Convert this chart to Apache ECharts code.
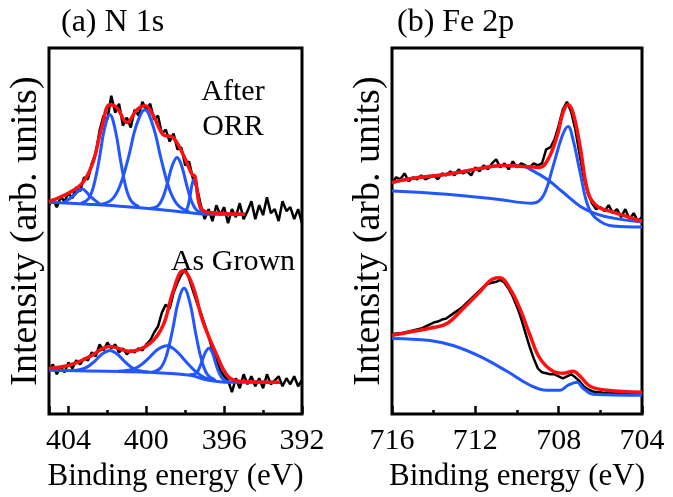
<!DOCTYPE html>
<html><head><meta charset="utf-8">
<script src="https://cdn.jsdelivr.net/npm/echarts@6/dist/echarts.min.js"></script></head>
<body style="margin:0;background:#fff">
<div id="c" style="width:673px;height:497px"></div>
<script>
// ---------------- Panel (a) N 1s ----------------
const aRawE = [405.0,404.8,404.6,404.4,404.2,404.0,403.8,403.6,403.4,403.2,403.0,402.8,402.6,402.4,402.2,402.0,401.8,401.6,401.4,401.2,401.0,400.8,400.6,400.4,400.2,400.0,399.8,399.6,399.4,399.2,399.0,398.8,398.6,398.4,398.2,398.0,397.8,397.6,397.4,397.2,397.0,396.8,396.6,396.4,396.2,396.0,395.8,395.6,395.4,395.2,395.0,394.8,394.6,394.4,394.2,394.0,393.8,393.6,393.4,393.2,393.0,392.8,392.6,392.4,392.2,392.0];
const aOrrRaw = [210,216,208,218,214,222,217,228,224,238,236,252,262,285,300,296,320,303,312,290,298,288,306,300,314,306,312,296,300,282,286,274,282,266,268,250,254,236,228,210,196,206,194,210,200,208,192,206,198,212,196,204,214,196,210,200,218,202,206,194,214,204,208,196,206,192];
const aGrownRaw = [44,50,40,48,42,52,46,54,50,56,54,62,58,70,64,72,66,70,62,66,60,64,62,66,64,70,74,82,88,102,110,106,122,132,140,146,136,124,112,102,90,78,64,54,44,38,34,22,36,26,40,30,38,28,36,26,40,30,34,38,28,36,30,38,28,34];

const aOrrFit = [[405,213.5],[403.92,223],[403.25,233],[402.74,253],[402.28,289],[401.87,311],[401.51,308],[400.99,293],[400.48,306],[400.07,310],[399.66,301],[399.14,281],[398.63,278],[398.11,261],[397.65,241],[397.5,239],[397.24,209],[396.88,203],[394.93,201]];
const aOrrBg = [[405,213],[403,211],[401,208.5],[399,205],[398,203],[397,201],[394.93,201]];
const aOrrC1 = [[404.2,213.1],[403.75,219.2],[403.5,224.1],[403.3,226.3],[403.1,223.7],[402.85,218.3],[402.4,211.3]];
const aOrrC2 = [[403.37,211.9],[402.97,216.7],[402.7,229.8],[402.42,256],[402.15,286.8],[401.87,301],[401.6,286.1],[401.32,254.7],[401.05,227.9],[400.77,214],[400.37,208.4]];
const aOrrC3 = [[402.37,210.8],[401.77,215.7],[401.35,229.7],[400.92,257.9],[400.5,290.8],[400.07,306],[399.65,289.3],[399.22,254.9],[398.8,225.4],[398.37,209.9],[397.77,203.1]];
const aOrrC4 = [[399.82,206.7],[399.42,209.1],[399.17,216.6],[398.92,231.8],[398.67,249.7],[398.42,258],[398.17,248.7],[397.92,229.8],[397.67,213.6],[397.42,205.2],[397.02,201.3]];
const aOrrC5 = [[398.1,203.4],[397.95,205],[397.85,209.7],[397.75,219.2],[397.65,230.8],[397.55,236],[397.45,230.5],[397.35,218.8],[397.25,208.9],[397.15,203.7],[397.0,201.2]];

const aGrownFit = [[405,46],[403.92,49.3],[402.89,58],[401.87,68],[400.84,63],[399.81,71],[399.14,89],[398.63,123],[398.11,144],[397.65,131],[397.09,93],[396.37,59],[395.8,38],[395.18,33],[393.13,32]];
const aGrownBg = [[405,44],[402,43],[399.8,42],[397.75,39],[396.9,34.5],[395.7,32],[393.13,32]];
const aGrownD1 = [[403.87,43.7],[403.37,44.8],[403.0,47.7],[402.62,53.7],[402.25,60.7],[401.87,64],[401.5,60.4],[401.12,53.1],[400.75,46.9],[400.37,43.6],[399.87,42.1]];
const aGrownD2 = [[401.44,43],[400.84,44.3],[400.37,48.2],[399.89,56],[399.42,64.9],[398.94,68.7],[398.47,63.6],[397.99,53.4],[397.52,43.8],[397.04,37],[396.44,33.8]];
const aGrownD3 = [[399.66,42.4],[399.26,46.6],[398.96,59.1],[398.66,83.8],[398.36,112.9],[398.06,126.5],[397.76,112],[397.46,81],[397.16,54.2],[396.86,39.8],[396.46,34.2]];
const aGrownD4 = [[397.78,39.5],[397.53,40],[397.34,43.7],[397.16,52],[396.97,61.8],[396.78,66.3],[396.59,60.8],[396.41,49.5],[396.22,39.8],[396.03,34.7],[395.78,32.7]];

// ---------------- Panel (b) Fe 2p ----------------
const bRawE = [716.0,715.8,715.6,715.4,715.2,715.0,714.8,714.6,714.4,714.2,714.0,713.8,713.6,713.4,713.2,713.0,712.8,712.6,712.4,712.2,712.0,711.8,711.6,711.4,711.2,711.0,710.8,710.6,710.4,710.2,710.0,709.8,709.6,709.4,709.2,709.0,708.8,708.6,708.4,708.2,708.0,707.8,707.6,707.4,707.2,707.0,706.8,706.6,706.4,706.2,706.0,705.8,705.6,705.4,705.2,705.0,704.8,704.6,704.4,704.2,704.0];
const bTopRaw = [232,238,236,242,234,238,236,240,236,238,240,236,242,240,244,240,246,242,244,240,248,244,250,246,252,256,248,252,246,254,248,252,250,248,252,250,252,266,268,276,290,306,314,304,286,262,238,222,212,206,208,204,210,202,206,198,206,196,202,194,198];
const bBottomRaw = [80,81,81,82,83,84,85,86,88,90,92,93,95,96,99,102,105,108,112,116,120,124,128,131,132,133,135,132,126,118,108,96,82,68,56,46,42,41,40,40,38,36,38,40,37,33,28,25,23,22,22,21,22,21,21,20,21,20,20,20,19];

const bTopFit = [[716,232.7],[715,237],[713.36,241],[711.78,247],[710.67,250],[709.71,249],[708.9,248],[708.51,256],[708.08,279],[707.79,303],[707.55,311],[707.31,303],[706.97,269],[706.59,223],[706.16,209],[705.39,203],[704,194]];
const bTopBroad = [[716,232.7],[715,237],[713.36,241],[711.78,247],[710.67,250],[709.71,249],[709.37,246],[708.56,236],[707.79,223],[706.97,209],[706.16,201],[705.39,197],[704,193]];
const bTopNarrow = [[716,224.3],[713.36,221],[710.96,216],[709.28,212],[708.75,219],[708.27,249],[707.84,279],[707.55,289],[707.31,276],[706.97,243],[706.59,209],[706.16,196],[705.39,189],[704,188]];
const bBottomFit = [[716,79.3],[715,83],[714.03,87],[713.36,91],[712.59,106],[711.78,123],[711.15,136],[710.82,137],[710.34,126],[709.86,106],[709.37,79],[708.9,56],[708.27,43],[707.79,41],[707.31,43],[706.97,38],[706.49,28],[705.68,24],[704,22]];
const bBottomBg = [[716,76],[714.18,74],[713.07,69],[711.78,58],[710.48,43],[709.37,29],[708.56,24],[707.93,24],[707.55,29],[707.12,32],[706.83,26],[706.35,20],[704,19]];

// Axis ticks / labels
const aTicks = { min: 392, max: 405, major: 4, minor: 2 };
const bTicks = { min: 704, max: 716, major: 4, minor: 2 };
const panelTitles = ['(a) N 1s', '(b) Fe 2p'];
const sampleLabels = ['After', 'ORR', 'As Grown'];
const xName = 'Binding energy (eV)';
const yName = 'Intensity (arb. units)';

// ---------------- Chart ----------------
const K = '#000000', R = '#ff0f0f', B = '#2256ff';

function pairs(xs, ys) { return xs.map((x, i) => [x, ys[i]]); }
function curve(xi, data, color, width, z, smooth) {
  return { type: 'line', xAxisIndex: xi, yAxisIndex: xi === 0 ? 0 : 1, data: data,
    symbol: 'none', showSymbol: false, smooth: smooth, z: z,
    lineStyle: { color: color, width: width } };
}
function majorAxis(grid, t) {
  return { type: 'value', gridIndex: grid, min: t.min, max: t.max, interval: t.major, inverse: true,
    position: 'bottom', axisLine: { show: false },
    axisTick: { inside: true, length: 8, lineStyle: { color: K, width: 2.5 } },
    axisLabel: { margin: 12, fontSize: 30, color: K,
      formatter: v => (v % t.major === 0 ? String(v) : '') },
    splitLine: { show: false },
    name: xName, nameLocation: 'middle', nameGap: 40,
    nameTextStyle: { fontSize: 31, color: K } };
}
function minorAxis(grid, t) {
  return { type: 'value', gridIndex: grid, min: t.min, max: t.max, interval: t.minor, inverse: true,
    position: 'bottom', axisLine: { show: false },
    axisTick: { inside: true, length: 4, lineStyle: { color: K, width: 2.5 } },
    axisLabel: { show: false }, splitLine: { show: false } };
}
function yAx(grid) {
  return { type: 'value', gridIndex: grid, min: 0, max: 368,
    axisLine: { show: false }, axisTick: { show: false }, axisLabel: { show: false }, splitLine: { show: false },
    name: yName, nameLocation: 'middle', nameRotate: 90, nameGap: 4,
    nameTextStyle: { fontSize: 38, color: K } };
}
function label(x, y, s, size, align) {
  return { type: 'text', x: x, y: y,
    style: { text: s, fontSize: size, fill: K, fontFamily: 'serif', align: align, verticalAlign: 'middle' } };
}

const chart = echarts.init(document.getElementById('c'), null, { renderer: 'canvas' });
chart.setOption({
  animation: false,
  textStyle: { fontFamily: 'serif' },
  grid: [
    { left: 49, right: 371, top: 48, bottom: 81, show: true, borderColor: K, borderWidth: 3 },
    { left: 392, right: 31, top: 48, bottom: 81, show: true, borderColor: K, borderWidth: 3 }
  ],
  xAxis: [ majorAxis(0, aTicks), minorAxis(0, aTicks), majorAxis(1, bTicks), minorAxis(1, bTicks) ],
  yAxis: [ yAx(0), yAx(1) ],
  graphic: [
    label(61, 23, panelTitles[0], 32, 'left'),
    label(397, 23, panelTitles[1], 32, 'left'),
    label(233, 92, sampleLabels[0], 30, 'center'),
    label(233, 127, sampleLabels[1], 30, 'center'),
    label(233, 262, sampleLabels[2], 30, 'center')
  ],
  series: [
    curve(0, pairs(aRawE, aOrrRaw), K, 2.5, 1, false),
    curve(0, pairs(aRawE, aGrownRaw), K, 2.5, 1, false),
    curve(0, aOrrBg, B, 3, 2, 0.4),
    curve(0, aOrrC1, B, 3, 2, 0.4),
    curve(0, aOrrC2, B, 3, 2, 0.4),
    curve(0, aOrrC3, B, 3, 2, 0.4),
    curve(0, aOrrC4, B, 3, 2, 0.4),
    curve(0, aOrrC5, B, 3, 2, 0.4),
    curve(0, aGrownBg, B, 3, 2, 0.4),
    curve(0, aGrownD1, B, 3, 2, 0.4),
    curve(0, aGrownD2, B, 3, 2, 0.4),
    curve(0, aGrownD3, B, 3, 2, 0.4),
    curve(0, aGrownD4, B, 3, 2, 0.4),
    curve(0, aOrrFit, R, 3.5, 3, 0.4),
    curve(0, aGrownFit, R, 3.5, 3, 0.4),
    curve(2, pairs(bRawE, bTopRaw), K, 2.5, 1, false),
    curve(2, pairs(bRawE, bBottomRaw), K, 2.5, 1, false),
    curve(2, bTopBroad, B, 3, 2, 0.4),
    curve(2, bTopNarrow, B, 3, 2, 0.4),
    curve(2, bBottomBg, B, 3, 2, 0.4),
    curve(2, bTopFit, R, 3.5, 3, 0.4),
    curve(2, bBottomFit, R, 3.5, 3, 0.4)
  ]
});
</script>
</body></html>
